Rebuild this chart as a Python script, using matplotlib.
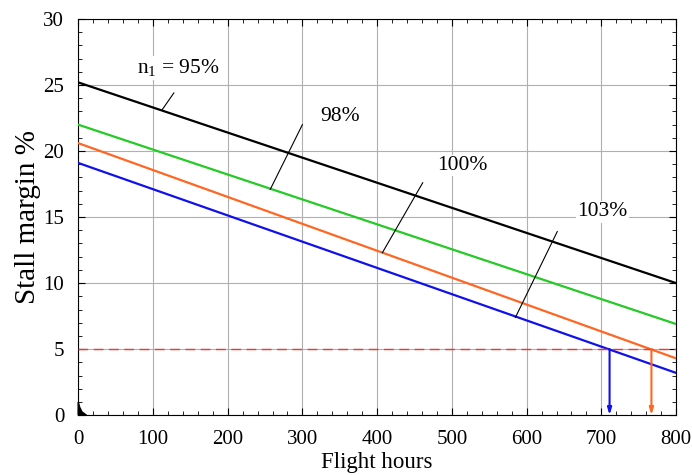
import matplotlib
matplotlib.use("Agg")
import matplotlib.pyplot as plt
from matplotlib.ticker import MultipleLocator

plt.rcParams['font.family'] = ['Liberation Serif', 'DejaVu Serif']
plt.rcParams['mathtext.default'] = 'regular'

# stall margin lines: value at 0 h and at 800 h
hours = [0, 800]
sm_95 = [25.2, 10.0]
sm_98 = [22.0, 6.9]
sm_100 = [20.6, 4.3]
sm_103 = [19.1, 3.2]
limit = 5.0
life_103 = 711
life_100 = 767

labels = ['n$_1$ = 95%', '98%', '100%', '103%']
label_pos = [(134, 26.3), (350, 22.6), (514, 18.9), (701, 15.4)]
leaders = [((128, 24.4), (112, 23.1)), ((300, 22.0), (257, 17.1)),
           ((461, 17.6), (407, 12.3)), ((641, 13.9), (585, 7.4))]

fig = plt.figure(figsize=(6.92, 4.75), dpi=100)
ax = fig.add_axes([0.113, 0.126, 0.864, 0.834])

ax.grid(True, color='#b0b0b0', linewidth=0.8, zorder=0)
ax.plot(hours, sm_95, color='black', lw=1.6, zorder=3)
ax.plot(hours, sm_98, color='#22cc22', lw=1.6, zorder=3)
ax.plot(hours, sm_100, color='#ff6622', lw=1.6, zorder=3)
ax.plot(hours, sm_103, color='#1010ee', lw=1.6, zorder=3)
ax.axhline(limit, color='#ff3030', lw=1.0, dashes=(7, 4), zorder=3)

for xv, c in [(life_103, '#1010ee'), (life_100, '#ff6622')]:
    ax.annotate('', xy=(xv, 0), xytext=(xv, limit),
                arrowprops=dict(arrowstyle='-|>,head_length=0.4,head_width=0.12',
                                color=c, lw=1.5, shrinkA=0, shrinkB=0), zorder=4)

for (p0, p1) in leaders:
    ax.plot([p0[0], p1[0]], [p0[1], p1[1]], color='black', lw=0.8, zorder=4)

for txt, (tx, ty) in zip(labels, label_pos):
    ax.text(tx, ty, txt, fontsize=15.5, ha='center', va='center', zorder=5,
            bbox=dict(facecolor='white', edgecolor='none', pad=1))

# small black mark at the origin
ax.fill([0, 0, 2, 5, 11], [0, 1.0, 0.6, 0.25, 0], color='black', zorder=5, clip_on=False)

ax.set_xlim(0, 800)
ax.set_ylim(0, 30)
ax.xaxis.set_major_locator(MultipleLocator(100))
ax.xaxis.set_minor_locator(MultipleLocator(20))
ax.yaxis.set_major_locator(MultipleLocator(5))
ax.yaxis.set_minor_locator(MultipleLocator(1))
ax.tick_params(which='both', direction='in', top=True, right=True, labelsize=15)
ax.tick_params(which='major', length=5)
ax.tick_params(which='minor', length=3)
ax.tick_params(axis='x', pad=11)
ax.tick_params(axis='y', pad=10)
ax.set_xlabel('Flight hours', fontsize=16.5, labelpad=2)
ax.set_ylabel('Stall margin %', fontsize=21, labelpad=2)

fig.savefig('out.png', dpi=100)
